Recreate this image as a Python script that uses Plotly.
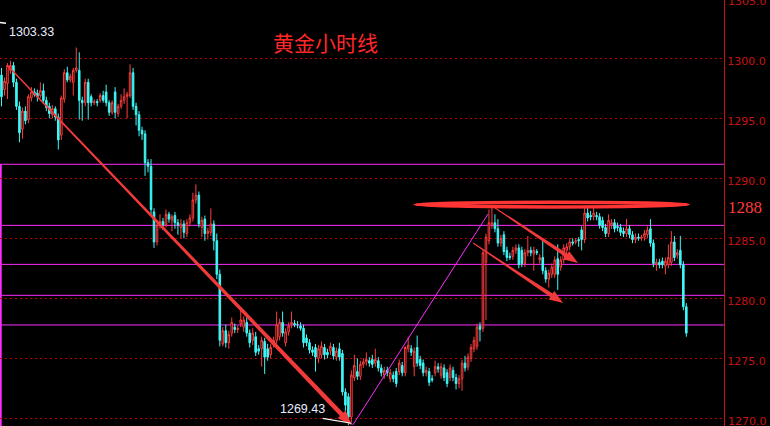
import math
import plotly.graph_objects as go

# ---------------- data (hourly gold candles) ----------------
opens = [
    1298.6, 1297.4, 1297.9, 1299.0, 1299.4, 1298.0, 1296.0, 1294.1, 1295.6, 1294.9,
    1296.7, 1297.2, 1297.1, 1296.9, 1297.3, 1296.5, 1296.0, 1295.3, 1295.8, 1295.1,
    1293.6, 1296.6, 1298.8, 1298.2, 1298.0, 1299.0, 1299.0, 1296.5, 1296.3, 1298.0,
    1296.8, 1296.3, 1296.4, 1296.5, 1296.9, 1297.2, 1296.3, 1295.5, 1297.2, 1295.4,
    1296.0, 1296.5, 1296.8, 1296.9, 1298.8, 1296.0, 1295.3, 1294.0, 1293.7, 1291.3,
    1291.0, 1287.2, 1284.7, 1286.1, 1286.4, 1286.1, 1287.0, 1286.5, 1286.9, 1286.3,
    1285.9, 1286.2, 1285.4, 1286.3, 1286.7, 1288.2, 1288.6, 1285.9, 1286.6, 1285.4,
    1285.5, 1286.2, 1284.8, 1282.0, 1276.2, 1277.3, 1276.3, 1277.1, 1277.6, 1277.4,
    1277.9, 1277.6, 1278.0, 1277.1, 1276.5, 1276.8, 1275.8, 1275.8, 1276.4, 1275.8,
    1275.3, 1276.2, 1276.5, 1276.8, 1278.0, 1276.3, 1277.2, 1277.8, 1277.9, 1277.8,
    1277.7, 1277.5, 1276.7, 1276.3, 1275.7, 1275.9, 1275.0, 1275.3, 1275.9, 1275.5,
    1275.6, 1275.9, 1275.1, 1275.8, 1275.4, 1272.2, 1271.8, 1270.1, 1273.4, 1273.9,
    1273.5, 1274.5, 1274.7, 1274.8, 1274.9, 1274.6, 1274.8, 1274.2, 1273.6, 1274.0,
    1273.3, 1273.6, 1273.9, 1273.9, 1274.4, 1273.8, 1275.8, 1275.8, 1274.3, 1275.9,
    1274.9, 1274.6, 1273.8, 1273.9, 1273.3, 1273.8, 1274.3, 1273.6, 1274.2, 1273.8,
    1273.4, 1274.0, 1273.4, 1272.9, 1273.3, 1274.6, 1274.3, 1275.0, 1275.8, 1276.0,
    1277.7, 1277.5, 1283.0, 1284.8, 1286.1, 1286.3, 1285.8, 1284.6, 1285.3, 1284.0,
    1283.5, 1283.5, 1284.0, 1284.2, 1284.0, 1282.9, 1283.8, 1284.0, 1283.7, 1283.9,
    1283.2, 1283.4, 1282.3, 1281.6, 1282.0, 1282.0, 1283.3, 1282.6, 1283.2, 1284.0,
    1284.3, 1284.7, 1284.7, 1284.9, 1285.7, 1284.9, 1287.1, 1286.9, 1286.8, 1286.9,
    1286.8, 1286.5, 1285.9, 1285.4, 1286.1, 1286.3, 1286.0, 1285.9, 1285.6, 1285.4,
    1285.8, 1285.3, 1284.9, 1285.1, 1285.0, 1285.1, 1285.3, 1285.8, 1284.6, 1282.8,
    1283.0, 1283.1, 1282.7, 1282.8, 1283.0, 1284.7, 1283.6, 1284.0, 1282.8, 1279.3,
]
highs = [
    1299.2, 1298.4, 1299.6, 1299.8, 1299.7, 1298.3, 1296.4, 1295.9, 1296.0, 1297.0,
    1297.6, 1297.5, 1297.4, 1298.0, 1297.9, 1296.8, 1296.3, 1296.1, 1296.0, 1295.4,
    1296.9, 1299.1, 1299.3, 1298.7, 1299.2, 1300.9, 1300.5, 1296.8, 1298.3, 1298.3,
    1297.0, 1296.6, 1296.6, 1297.1, 1297.3, 1297.8, 1296.5, 1296.5, 1297.6, 1296.2,
    1297.0, 1297.5, 1297.2, 1299.5, 1299.2, 1296.3, 1295.6, 1294.3, 1294.0, 1291.6,
    1291.6, 1287.5, 1286.5, 1287.0, 1286.7, 1287.4, 1287.2, 1287.0, 1287.2, 1286.6,
    1286.6, 1286.5, 1286.6, 1287.0, 1288.8, 1289.5, 1288.9, 1286.8, 1286.9, 1285.9,
    1287.5, 1286.5, 1285.4, 1282.4, 1277.6, 1277.8, 1277.3, 1278.4, 1277.9, 1277.7,
    1279.0, 1278.5, 1278.4, 1277.4, 1277.5, 1277.2, 1276.1, 1276.8, 1276.7, 1276.2,
    1276.2, 1276.8, 1278.9, 1278.3, 1278.9, 1277.5, 1278.0, 1278.9, 1278.2, 1278.1,
    1278.0, 1277.8, 1277.0, 1276.6, 1276.0, 1276.2, 1276.1, 1276.4, 1276.2, 1275.8,
    1276.3, 1276.2, 1275.9, 1276.3, 1275.7, 1272.5, 1272.1, 1274.0, 1275.3, 1275.0,
    1274.8, 1275.0, 1275.5, 1275.1, 1275.3, 1275.8, 1275.1, 1274.5, 1274.3, 1274.3,
    1274.1, 1273.9, 1274.2, 1274.9, 1274.7, 1276.0, 1276.8, 1276.1, 1275.9, 1276.9,
    1275.2, 1274.9, 1274.3, 1274.2, 1273.6, 1274.8, 1274.6, 1274.6, 1274.5, 1274.1,
    1274.5, 1274.3, 1273.7, 1273.6, 1274.9, 1275.2, 1275.4, 1276.2, 1276.8, 1277.9,
    1278.0, 1284.1, 1285.4, 1287.4, 1287.6, 1287.0, 1286.6, 1285.3, 1285.6, 1284.3,
    1283.8, 1284.3, 1284.5, 1284.5, 1284.3, 1284.1, 1285.2, 1284.3, 1284.3, 1284.1,
    1283.7, 1285.0, 1282.6, 1282.4, 1282.9, 1283.5, 1284.5, 1283.5, 1284.5, 1284.6,
    1285.0, 1285.0, 1285.0, 1285.1, 1286.0, 1287.7, 1287.7, 1287.3, 1287.7, 1287.2,
    1287.1, 1286.8, 1286.2, 1287.0, 1286.6, 1286.6, 1286.3, 1286.2, 1285.9, 1286.6,
    1286.1, 1285.6, 1285.4, 1285.4, 1285.3, 1285.7, 1286.0, 1286.6, 1284.9, 1283.3,
    1283.3, 1283.4, 1283.4, 1284.5, 1285.6, 1285.2, 1284.1, 1285.2, 1283.1, 1279.6,
]
lows = [
    1296.0, 1296.9, 1296.6, 1298.7, 1297.6, 1295.7, 1293.0, 1293.3, 1294.5, 1294.6,
    1296.4, 1296.8, 1296.4, 1296.7, 1296.2, 1295.6, 1295.0, 1295.0, 1294.8, 1292.4,
    1293.2, 1296.3, 1298.0, 1298.0, 1296.9, 1298.8, 1294.9, 1294.8, 1296.0, 1294.9,
    1296.0, 1296.1, 1296.0, 1296.3, 1296.3, 1296.0, 1295.2, 1295.3, 1295.0, 1295.1,
    1295.8, 1296.2, 1295.0, 1296.7, 1295.7, 1294.4, 1293.5, 1293.2, 1290.2, 1290.5,
    1287.0, 1284.2, 1284.4, 1285.8, 1285.7, 1285.9, 1286.3, 1285.6, 1285.8, 1285.3,
    1285.0, 1285.0, 1285.1, 1286.0, 1286.4, 1287.9, 1285.9, 1285.1, 1284.8, 1284.9,
    1285.2, 1284.0, 1281.6, 1276.0, 1276.0, 1275.9, 1275.8, 1276.8, 1277.1, 1277.1,
    1277.6, 1277.2, 1276.8, 1275.9, 1276.1, 1275.2, 1275.3, 1274.3, 1273.7, 1274.8,
    1275.0, 1275.9, 1276.2, 1276.5, 1276.8, 1276.0, 1276.9, 1277.5, 1277.6, 1277.5,
    1277.3, 1275.9, 1276.0, 1275.4, 1275.2, 1273.9, 1274.6, 1275.0, 1274.9, 1275.0,
    1275.3, 1274.9, 1274.8, 1274.8, 1271.9, 1270.6, 1269.43, 1269.7, 1273.1, 1273.2,
    1273.2, 1274.2, 1274.4, 1274.3, 1274.2, 1274.3, 1273.9, 1273.5, 1273.3, 1273.5,
    1273.0, 1273.0, 1272.6, 1273.6, 1273.5, 1273.5, 1275.5, 1275.2, 1273.5, 1274.3,
    1274.1, 1273.5, 1273.5, 1272.7, 1273.0, 1273.5, 1273.8, 1273.3, 1273.1, 1272.6,
    1273.1, 1273.1, 1272.4, 1272.5, 1272.3, 1273.9, 1274.0, 1274.7, 1275.5, 1275.7,
    1276.4, 1277.2, 1278.2, 1284.5, 1285.8, 1285.5, 1284.3, 1284.3, 1283.6, 1283.1,
    1283.2, 1283.2, 1283.7, 1282.5, 1282.6, 1282.6, 1283.5, 1283.5, 1282.3, 1283.6,
    1282.9, 1282.0, 1281.3, 1280.9, 1281.7, 1281.7, 1280.7, 1282.3, 1282.9, 1283.7,
    1284.0, 1284.4, 1284.5, 1284.3, 1284.0, 1284.6, 1286.4, 1286.5, 1286.5, 1286.5,
    1285.8, 1285.6, 1285.1, 1285.1, 1285.8, 1285.5, 1285.6, 1285.2, 1285.1, 1285.1,
    1285.0, 1284.6, 1284.6, 1284.8, 1284.8, 1284.8, 1285.0, 1284.3, 1282.6, 1282.3,
    1282.5, 1282.5, 1282.0, 1282.5, 1282.7, 1283.1, 1283.3, 1282.5, 1279.0, 1276.8,
]
closes = [
    1296.8, 1298.1, 1299.4, 1299.4, 1298.0, 1296.0, 1293.8, 1295.6, 1294.8, 1296.8,
    1297.2, 1297.0, 1296.8, 1297.3, 1296.5, 1295.9, 1295.4, 1295.8, 1295.1, 1293.2,
    1296.7, 1298.8, 1298.2, 1298.5, 1299.0, 1299.2, 1296.5, 1296.3, 1298.0, 1296.3,
    1296.3, 1296.4, 1296.3, 1296.9, 1296.5, 1296.3, 1295.5, 1296.3, 1295.5, 1296.0,
    1296.5, 1296.8, 1297.0, 1298.8, 1296.0, 1295.3, 1294.0, 1293.7, 1291.3, 1291.0,
    1287.4, 1284.7, 1286.1, 1286.4, 1286.1, 1287.0, 1286.6, 1286.8, 1286.3, 1286.1,
    1286.2, 1285.5, 1286.3, 1286.7, 1288.2, 1288.6, 1286.2, 1286.5, 1285.4, 1285.6,
    1286.2, 1284.8, 1282.0, 1276.5, 1277.3, 1276.3, 1277.0, 1278.0, 1277.4, 1277.5,
    1278.2, 1278.2, 1277.1, 1276.3, 1277.1, 1275.5, 1275.6, 1276.5, 1275.1, 1275.1,
    1275.9, 1276.5, 1277.8, 1278.0, 1277.1, 1277.2, 1277.7, 1278.0, 1277.8, 1277.8,
    1277.5, 1276.3, 1276.3, 1275.7, 1275.5, 1275.1, 1275.8, 1276.0, 1275.3, 1275.3,
    1276.0, 1275.2, 1275.6, 1275.1, 1272.2, 1271.1, 1270.1, 1273.6, 1274.4, 1273.5,
    1274.5, 1274.7, 1274.9, 1274.6, 1274.5, 1274.9, 1274.2, 1273.8, 1274.0, 1273.8,
    1273.8, 1273.3, 1272.9, 1274.6, 1273.8, 1275.9, 1276.1, 1275.5, 1275.6, 1274.6,
    1274.4, 1273.8, 1274.0, 1273.0, 1273.2, 1274.3, 1274.1, 1274.3, 1273.4, 1272.9,
    1274.2, 1273.4, 1272.9, 1273.3, 1274.6, 1274.2, 1275.1, 1275.9, 1276.5, 1277.6,
    1277.4, 1283.8, 1285.1, 1286.3, 1286.3, 1285.8, 1284.6, 1285.0, 1283.9, 1283.4,
    1283.4, 1284.0, 1284.2, 1282.8, 1282.9, 1283.8, 1284.0, 1283.8, 1284.0, 1283.8,
    1283.4, 1282.3, 1281.6, 1282.1, 1282.6, 1283.2, 1282.0, 1283.2, 1284.2, 1284.3,
    1284.7, 1284.6, 1284.8, 1284.8, 1284.9, 1287.1, 1286.7, 1286.8, 1287.1, 1286.8,
    1286.1, 1285.9, 1285.4, 1286.5, 1286.3, 1285.8, 1285.9, 1285.5, 1285.4, 1285.8,
    1285.3, 1284.9, 1285.1, 1285.0, 1285.1, 1285.4, 1285.7, 1284.6, 1282.9, 1283.0,
    1282.8, 1282.8, 1283.1, 1283.4, 1284.7, 1283.4, 1283.8, 1282.8, 1279.3, 1277.1,
]
bars = list(range(len(opens)))

y_ticks = [1270, 1275, 1280, 1285, 1290, 1295, 1300]
edge_ticks = [1270, 1305]          # labels at the plot edges, drawn as annotations
level_lines = [1291.17, 1286.08, 1282.83, 1280.25, 1277.78]
title_text = "黄金小时线"
high_text = "1303.33"
low_text = "1269.43"
low_price = 1269.43
resistance_text = "1288"

# ---------------- layout constants ----------------
W, H = 770, 426
MR = 46
PW = W - MR
X_RANGE = [-0.5, 241.6]
Y_RANGE = [1269.36, 1304.86]
sx = PW / (X_RANGE[1] - X_RANGE[0])
sy = H / (Y_RANGE[1] - Y_RANGE[0])

RED = "#f23a3a"
CYAN = "#3ff7f7"
MAGENTA = "#ff2cff"
AXIS_RED = "#c41414"


def arrow_path(x0, y0, x1, y1, w0, w1, head_len, head_w):
    X0, Y0, X1, Y1 = x0 * sx, y0 * sy, x1 * sx, y1 * sy
    dx, dy = X1 - X0, Y1 - Y0
    L = math.hypot(dx, dy)
    ux, uy = dx / L, dy / L
    nx, ny = -uy, ux
    bx, by = X1 - ux * head_len, Y1 - uy * head_len
    pts = [
        (X0 + nx * w0 / 2, Y0 + ny * w0 / 2),
        (bx + nx * w1 / 2, by + ny * w1 / 2),
        (bx + nx * head_w / 2, by + ny * head_w / 2),
        (X1, Y1),
        (bx - nx * head_w / 2, by - ny * head_w / 2),
        (bx - nx * w1 / 2, by - ny * w1 / 2),
        (X0 - nx * w0 / 2, Y0 - ny * w0 / 2),
    ]
    return "M " + " L ".join(f"{px / sx:.4f},{py / sy:.5f}" for px, py in pts) + " Z"


fig = go.Figure()
fig.add_trace(go.Candlestick(
    x=bars, open=opens, high=highs, low=lows, close=closes,
    increasing=dict(line=dict(color="#ff3d3d", width=1), fillcolor="#000000"),
    decreasing=dict(line=dict(color=CYAN, width=1), fillcolor=CYAN),
    whiskerwidth=0, hoverinfo="skip", showlegend=False,
))

shapes = []
for lv in level_lines:
    shapes.append(dict(type="line", xref="paper", yref="y", x0=0, x1=1, y0=lv, y1=lv,
                       line=dict(color=MAGENTA, width=1), layer="below"))
shapes.append(dict(type="line", xref="paper", yref="y", x0=0.001, x1=0.001,
                   y0=level_lines[0], y1=Y_RANGE[0],
                   line=dict(color=MAGENTA, width=2), layer="below"))
# magenta rise line from the low
shapes.append(dict(type="line", xref="x", yref="y", x0=117.45, y0=low_price, x1=162.7, y1=1287.03,
                   line=dict(color=MAGENTA, width=1)))
# tapered red arrows
for (a, b, c, d, w0, w1, hl, hw) in [
    (1.84, 1299.44, 117.2, low_price, 1.2, 4.5, 15, 11),
    (165.05, 1287.53, 192.8, 1282.94, 1.0, 4.0, 14, 10),
    (157.7, 1284.61, 187.8, 1279.61, 1.0, 4.0, 14, 10),
]:
    shapes.append(dict(type="path", xref="x", yref="y", path=arrow_path(a, b, c, d, w0, w1, hl, hw),
                       fillcolor=RED, line=dict(width=0)))
# ellipse around resistance
shapes.append(dict(type="circle", xref="x", yref="y", x0=138.3, x1=229.6, y0=1287.62, y1=1288.0,
                   line=dict(color="#ff3434", width=3.5)))
# small white markers of high/low labels
shapes.append(dict(type="line", xref="x", yref="y", x0=-0.5, x1=1.5, y0=1302.99, y1=1302.93,
                   line=dict(color="#ffffff", width=1.5)))
shapes.append(dict(type="line", xref="x", yref="y", x0=107.4, x1=117.1, y0=1270.0, y1=1269.59,
                   line=dict(color="#ffffff", width=1.2)))

annotations = [
    dict(text=title_text, xref="paper", yref="paper", x=325 / PW, y=1 - 42 / H,
         xanchor="center", yanchor="middle",
         showarrow=False, font=dict(family="Noto Sans CJK SC", size=21, color="#ff2828")),
    dict(text=high_text, xref="x", yref="y", x=2.0, y=1302.2, xanchor="left", yanchor="middle",
         showarrow=False, font=dict(family="Liberation Sans", size=12.5, color="#e8ecff")),
    dict(text=low_text, xref="x", yref="y", x=92.3, y=1270.8, xanchor="left", yanchor="middle",
         showarrow=False, font=dict(family="Liberation Sans", size=12.5, color="#e8ecff")),
    dict(text=resistance_text, xref="paper", yref="paper", x=1, xshift=2,
         y=1 - 208 / H, xanchor="left", yanchor="middle", showarrow=False,
         font=dict(family="Liberation Serif", size=17, color="#ff3a3a")),
]
for t in edge_ticks:
    annotations.append(dict(
        text=f"{t:.1f}", xref="paper", yref="paper", x=1, xshift=2,
        y=(t - Y_RANGE[0]) / (Y_RANGE[1] - Y_RANGE[0]), yshift=-3,
        xanchor="left", yanchor="middle", showarrow=False,
        font=dict(family="DejaVu Sans", size=11, color=AXIS_RED)))

fig.update_layout(
    width=W, height=H,
    margin=dict(l=0, r=MR, t=0, b=0),
    paper_bgcolor="#000000", plot_bgcolor="#000000",
    showlegend=False, boxgap=0.25, hovermode=False,
    shapes=shapes, annotations=annotations,
    xaxis=dict(range=X_RANGE, visible=False, rangeslider=dict(visible=False), fixedrange=True),
    yaxis=dict(
        range=Y_RANGE, side="right", tickvals=y_ticks,
        ticktext=["" if v in edge_ticks else f"{v:.1f}" for v in y_ticks],
        showgrid=True, gridcolor="#b80000", griddash="2px,3px", gridwidth=1,
        showline=True, linecolor=AXIS_RED, linewidth=1, zeroline=False,
        ticks="", ticklabelshift=3,
        tickfont=dict(family="DejaVu Sans", size=11, color=AXIS_RED),
        fixedrange=True,
    ),
)

fig.write_html(
    "out.html",
    config={"displayModeBar": False},
    post_script="document.body.style.margin='0';document.body.style.overflow='hidden';"
                "document.documentElement.style.background='#000';",
)
